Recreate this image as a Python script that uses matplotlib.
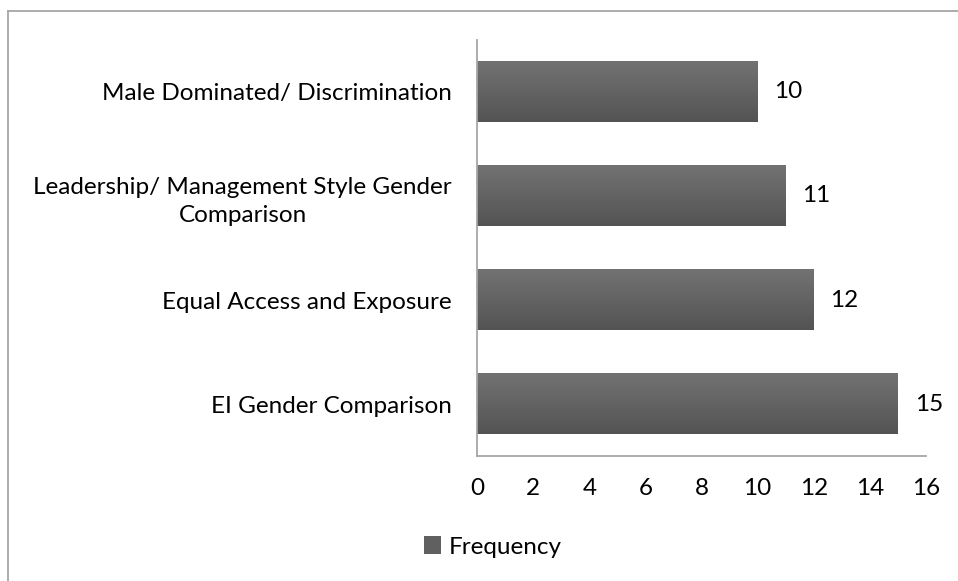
import matplotlib
matplotlib.use("Agg")
import numpy as np
import matplotlib.pyplot as plt
from matplotlib.lines import Line2D
from matplotlib.colors import LinearSegmentedColormap

plt.rcParams['font.family'] = ['Lato', 'DejaVu Sans']

categories = [
    'Male Dominated/ Discrimination',
    'Leadership/ Management Style Gender\nComparison',
    'Equal Access and Exposure',
    'EI Gender Comparison',
]
frequency = [10, 11, 12, 15]
xticks = [0, 2, 4, 6, 8, 10, 12, 14, 16]

bar_color = '#606060'
axis_color = '#A6A6A6'
fs = 17.5

fig = plt.figure(figsize=(9.58, 5.81), dpi=100)
ax = fig.add_axes([0.498, 0.2151, 0.4686, 0.7161])

ypos = list(range(len(categories)))
bars = ax.barh(ypos, frequency, height=0.58, color=bar_color, label='Frequency')

# vertical gradient like the original (lighter top, darker bottom)
grad_cmap = LinearSegmentedColormap.from_list('g', ['#727272', '#545454'])
grad = np.linspace(0, 1, 64).reshape(-1, 1)
for b in bars:
    ax.imshow(grad, cmap=grad_cmap, aspect='auto', zorder=3,
              extent=[b.get_x(), b.get_x() + b.get_width(),
                      b.get_y() + b.get_height(), b.get_y()])

ax.set_ylim(len(categories) - 0.5, -0.5)
ax.set_xlim(0, 16)
ax.set_xticks(xticks)
ax.set_yticks(ypos)
ax.set_yticklabels(categories, multialignment='center', linespacing=1.4)

for b, v in zip(bars, frequency):
    ax.annotate(str(v), (b.get_width(), b.get_y() + b.get_height() / 2),
                xytext=(12, 0), textcoords='offset points',
                ha='left', va='center', fontsize=fs, color='black')

for s in ['top', 'right']:
    ax.spines[s].set_visible(False)
for s in ['left', 'bottom']:
    ax.spines[s].set_color(axis_color)
    ax.spines[s].set_linewidth(1.3)
    ax.spines[s].set_zorder(4)
ax.tick_params(axis='x', length=0, pad=16, labelsize=fs)
ax.tick_params(axis='y', length=0, pad=18, labelsize=fs)

leg = fig.legend(handles=[bars], labels=['Frequency'], loc='center',
                 bbox_to_anchor=(493 / 958, 1 - 547 / 581), frameon=False,
                 fontsize=fs, handlelength=0.7, handleheight=0.7,
                 handletextpad=0.3)

# chart area border (only left and top visible in the crop)
bx = 8 / 958
by = 1 - 11 / 581
fig.add_artist(Line2D([bx, bx], [0, by], transform=fig.transFigure,
                      color=axis_color, lw=1.3))
fig.add_artist(Line2D([bx, 1], [by, by], transform=fig.transFigure,
                      color=axis_color, lw=1.3))

fig.savefig('out.png', dpi=100)
